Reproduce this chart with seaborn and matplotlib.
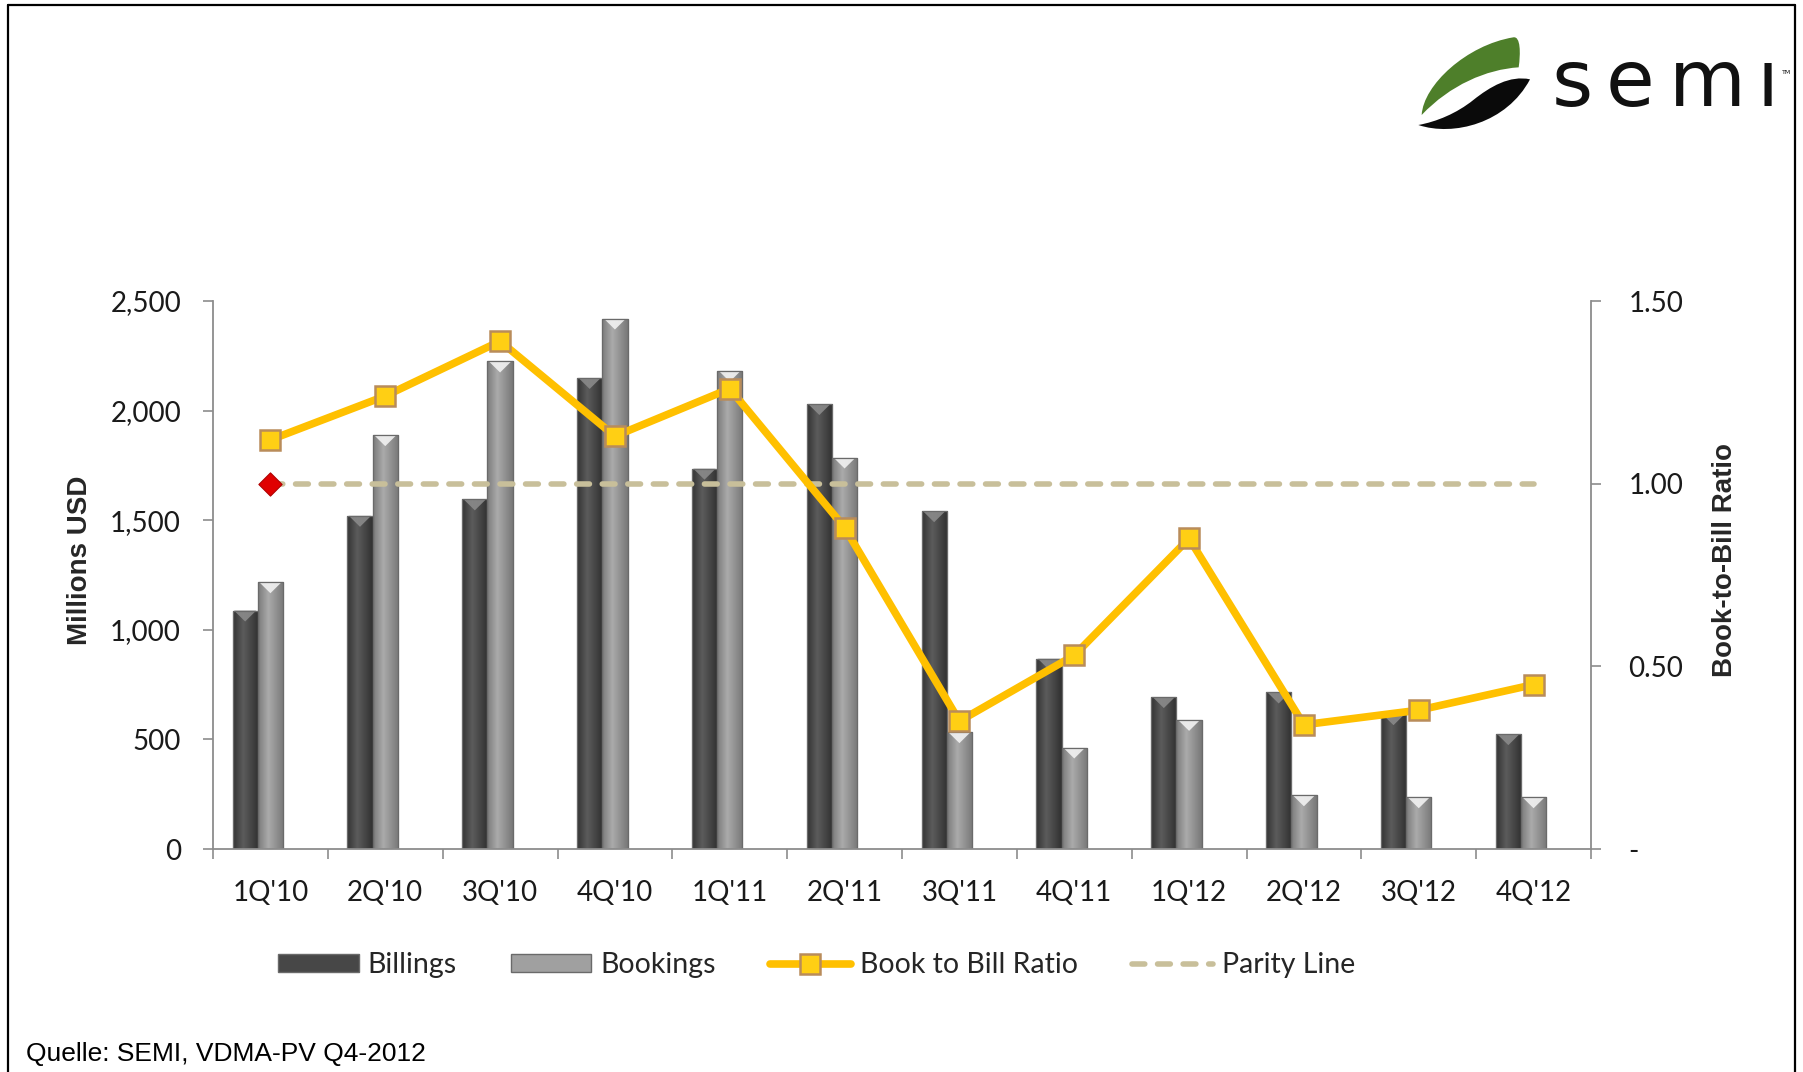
import numpy as np
import pandas as pd
import matplotlib
matplotlib.use("Agg")
import matplotlib.pyplot as plt
import seaborn as sns
from matplotlib.lines import Line2D
from matplotlib.patches import Patch, PathPatch, Polygon
from matplotlib.path import Path

# ---------------- data ----------------
quarters = ["1Q'10", "2Q'10", "3Q'10", "4Q'10", "1Q'11", "2Q'11",
            "3Q'11", "4Q'11", "1Q'12", "2Q'12", "3Q'12", "4Q'12"]
billings = [1088, 1520, 1595, 2149, 1735, 2030, 1541, 868, 693, 714, 615, 524]
bookings = [1217, 1888, 2224, 2420, 2182, 1786, 533, 463, 589, 245, 236, 236]
book_to_bill = [1.12, 1.24, 1.39, 1.13, 1.26, 0.88, 0.35, 0.53, 0.85, 0.34, 0.38, 0.45]
parity = [1.0] * len(quarters)
left_ticks = [0, 500, 1000, 1500, 2000, 2500]
left_labels = ["0", "500", "1,000", "1,500", "2,000", "2,500"]
right_ticks = [0, 0.5, 1.0, 1.5]
right_labels = ["-", "0.50", "1.00", "1.50"]

# ---------------- style ----------------
sns.set_theme(style="ticks")
plt.rcParams["font.family"] = ["Lato", "DejaVu Sans"]

W, H = 1803, 1072
fig = plt.figure(figsize=(W / 100, H / 100), dpi=100)
fig.patch.set_facecolor("white")

L, R, T, B = 213, 1591, 301, 849
ax = fig.add_axes([L / W, 1 - B / H, (R - L) / W, (B - T) / H])
ax.set_facecolor("none")

df = pd.DataFrame({
    "Quarter": quarters * 2,
    "Series": ["Billings"] * len(quarters) + ["Bookings"] * len(quarters),
    "Value": billings + bookings,
})
sns.barplot(data=df, x="Quarter", y="Value", hue="Series", order=quarters,
            hue_order=["Billings", "Bookings", "_pad"],
            palette=["#474747", "#8e8e8e", "#ffffff"], width=0.66,
            dodge=True, saturation=1, errorbar=None, legend=False,
            edgecolor="#7a7a7a", linewidth=0.8, ax=ax)

idx = np.arange(len(quarters))
ax.set_xlim(-0.5, len(quarters) - 0.5)
ax.set_ylim(0, 2500)

# cylinder-like shading on bars
def profile(stops, n=64):
    t = np.linspace(0, 1, n)
    pos = [s[0] for s in stops]
    out = np.zeros((1, n, 3))
    for c in range(3):
        out[0, :, c] = np.interp(t, pos, [s[1][c] for s in stops])
    return out

dark = profile([(0, (0.20, 0.20, 0.20)), (0.4, (0.36, 0.36, 0.36)), (1, (0.19, 0.19, 0.19))])
light = profile([(0, (0.48, 0.48, 0.48)), (0.4, (0.67, 0.67, 0.67)), (1, (0.47, 0.47, 0.47))])
px_per_unit = (B - T) / 2500.0
tri_h = 11 / px_per_unit
for p in list(ax.patches):
    h = p.get_height()
    if not np.isfinite(h) or h <= 0:
        continue
    x0, w = p.get_x(), p.get_width()
    is_dark = p.get_facecolor()[0] < 0.45
    im = ax.imshow(dark if is_dark else light, extent=[x0, x0 + w, 0, h],
                   aspect="auto", origin="lower", zorder=1.5, interpolation="bilinear")
    im.set_clip_path(p)
    tri_col = "#8a8a8a" if is_dark else "#f2f2f2"
    ax.add_patch(Polygon([[x0 + w * 0.06, h], [x0 + w * 0.94, h], [x0 + w / 2, h - tri_h]],
                         closed=True, facecolor=tri_col, edgecolor="none", alpha=0.9, zorder=1.6))
    ax.add_patch(Polygon([[x0, 0], [x0 + w, 0], [x0 + w, h], [x0, h]], closed=True,
                         facecolor="none", edgecolor="#6a6a6a", linewidth=0.9, zorder=1.7))
ax.set_xlim(-0.5, len(quarters) - 0.5)
ax.set_ylim(0, 2500)

axis_col = "#8c8c8c"
for s in ["top", "right"]:
    ax.spines[s].set_visible(False)
for s in ["left", "bottom"]:
    ax.spines[s].set_color(axis_col)
    ax.spines[s].set_linewidth(1.3)

ax.set_yticks(left_ticks, left_labels)
ax.set_xticks(np.arange(-0.5, len(quarters)), [""] * (len(quarters) + 1))
ax.set_xticks(idx, quarters, minor=True)
ax.tick_params(axis="x", which="major", length=7, width=1.2, color=axis_col, direction="out")
ax.tick_params(axis="x", which="minor", length=0, pad=22, labelsize=20, labelcolor="#1a1a1a")
ax.tick_params(axis="y", length=7, width=1.2, color=axis_col, direction="out",
               pad=16, labelsize=20, labelcolor="#1a1a1a")
ax.set_xlabel("")
ax.set_ylabel("")

# ---------------- secondary axis ----------------
ax2 = ax.twinx()
ax2.set_ylim(0, 1.5)
sns.lineplot(x=idx, y=parity, ax=ax2, color="#C8BF9A", linewidth=4.0,
             linestyle=(0, (2.3, 2.3)), dash_capstyle="round", zorder=3)
sns.scatterplot(x=idx[:1], y=parity[:1], ax=ax2, marker="D", s=140, color="#E00000",
                edgecolor="#B00000", linewidth=0.8, zorder=4)
sns.lineplot(x=idx, y=book_to_bill, ax=ax2, color="#FFC000", linewidth=5.5,
             marker="s", markersize=15, markerfacecolor="#FFCF14",
             markeredgecolor="#B98C5A", markeredgewidth=1.8, zorder=5)
ax2.set_xlim(-0.5, len(quarters) - 0.5)
ax2.set_ylim(0, 1.5)
ax2.set_yticks(right_ticks, right_labels)
for s in ["top", "left", "bottom"]:
    ax2.spines[s].set_visible(False)
ax2.spines["right"].set_color(axis_col)
ax2.spines["right"].set_linewidth(1.3)
ax2.tick_params(axis="y", length=7, width=1.2, color=axis_col, direction="out",
                pad=20, labelsize=20, labelcolor="#1a1a1a")
ax2.set_ylabel("")

# axis titles
fig.text(80 / W, 1 - 560 / H, "Millions USD", rotation=90, ha="center", va="center",
         fontsize=20, fontweight="bold", family=["Liberation Sans", "DejaVu Sans"])
fig.text(1725 / W, 1 - 560 / H, "Book-to-Bill Ratio", rotation=90, ha="center", va="center",
         fontsize=20, fontweight="bold", family=["Liberation Sans", "DejaVu Sans"])

# ---------------- legend ----------------
handles = [
    Patch(facecolor="#474747", edgecolor="#6a6a6a"),
    Patch(facecolor="#a0a0a0", edgecolor="#6a6a6a"),
    Line2D([0], [0], color="#FFC000", lw=5.5, marker="s", markersize=15,
           markerfacecolor="#FFCF14", markeredgecolor="#B98C5A", markeredgewidth=1.8),
    Line2D([0], [0], color="#C8BF9A", lw=4.0, linestyle=(0, (2.3, 2.3)), dash_capstyle="round"),
]
labels = ["Billings", "Bookings", "Book to Bill Ratio", "Parity Line"]
fig.legend(handles, labels, loc="center left", bbox_to_anchor=(278 / W, 1 - 965 / H),
           ncol=4, frameon=False, fontsize=20.5, handlelength=2.83, handleheight=0.55,
           handletextpad=0.32, columnspacing=1.9, borderpad=0, borderaxespad=0)

# ---------------- source ----------------
fig.text(26 / W, 1 - 1061 / H, "Quelle: SEMI, VDMA-PV Q4-2012", ha="left", va="baseline",
         fontsize=19, color="#000000", family=["Liberation Sans", "DejaVu Sans"])

# ---------------- frame ----------------
fig.add_artist(Line2D([8 / W, 8 / W], [0, 1 - 5 / H], color="black", lw=1.6, transform=fig.transFigure))
fig.add_artist(Line2D([8 / W, 1795 / W], [1 - 5 / H, 1 - 5 / H], color="black", lw=1.6, transform=fig.transFigure))
fig.add_artist(Line2D([1795 / W, 1795 / W], [0, 1 - 5 / H], color="black", lw=1.6, transform=fig.transFigure))

# ---------------- logo ----------------
lax = fig.add_axes([1400 / W, 1 - 140 / H, 130 / W, 110 / H])
lax.set_xlim(0, 390)
lax.set_ylim(330, 0)
lax.axis("off")
C = Path.CURVE4
green = Path([(65, 255), (70, 165), (200, 45), (340, 22),
              (362, 18), (362, 70), (356, 112),
              (260, 118), (150, 165), (65, 255), (65, 255)],
             [Path.MOVETO, C, C, C, C, C, C, C, C, C, Path.CLOSEPOLY])
lax.add_patch(PathPatch(green, facecolor="#4E7F2A", edgecolor="none"))
black = Path([(55, 285), (160, 320), (320, 280), (390, 148),
              (330, 135), (270, 170), (220, 210),
              (170, 250), (110, 275), (55, 285), (55, 285)],
             [Path.MOVETO, C, C, C, C, C, C, C, C, C, Path.CLOSEPOLY])
lax.add_patch(PathPatch(black, facecolor="#0a0a0a", edgecolor="none"))

for ch, xl in zip(["s", "e", "m", "ı"], [1552, 1606, 1669, 1756]):
    fig.text(xl / W, 1 - 106 / H, ch, ha="left", va="baseline", fontsize=57,
             family=["DejaVu Sans"], color="#111111")
fig.text(1782 / W, 1 - 74 / H, "TM", ha="left", va="baseline", fontsize=4.5,
         family=["DejaVu Sans"], color="#111111")

fig.savefig("out.png", dpi=100, facecolor="white")
